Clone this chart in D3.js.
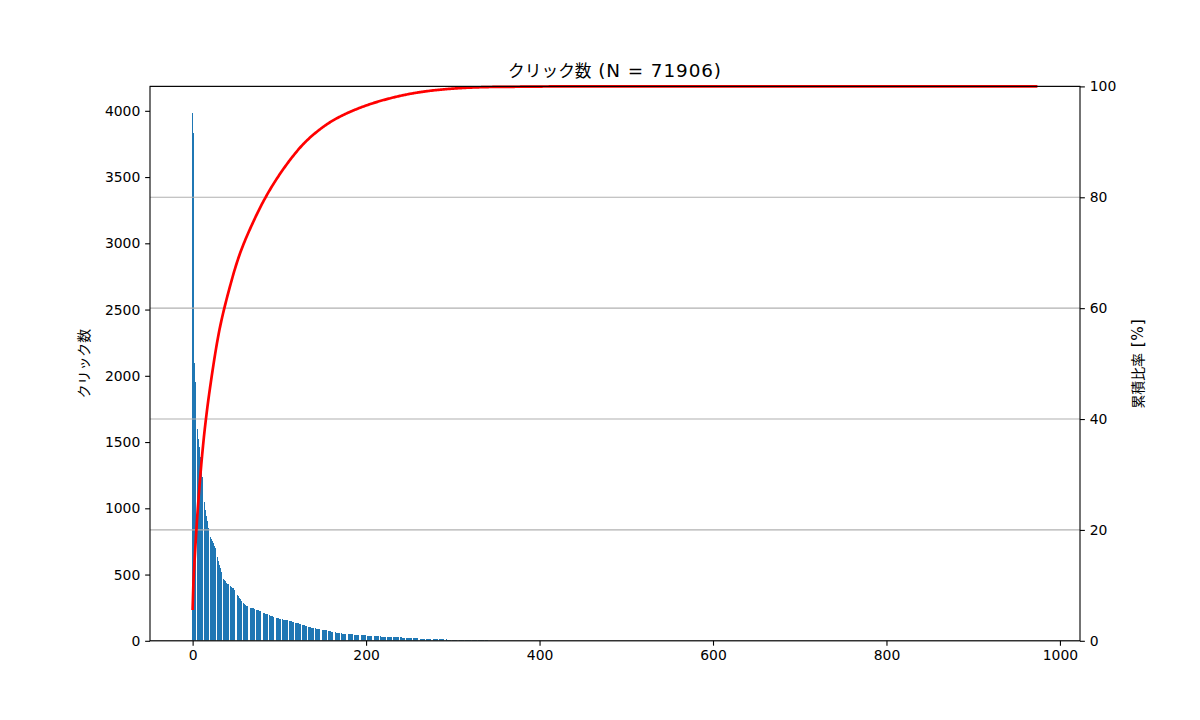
<!DOCTYPE html>
<html>
<head>
<meta charset="utf-8">
<script src="https://cdn.jsdelivr.net/npm/d3@7"></script>
<style>
    body { margin: 0; background: #fff; }
    svg text { font-family: "DejaVu Sans", "Noto Sans CJK JP", sans-serif; fill: #000; }
    .jp { font-family: "Noto Sans CJK JP", sans-serif; }
    .latin { font-family: "DejaVu Sans", sans-serif; font-size: 1.1em; letter-spacing: 0.05em; }
</style>
</head>
<body>
<svg id="chart" width="1200" height="720"></svg>
<script>
// chart texts: [japanese part, latin part]
const titleText = ['クリック数', ' (N = 71906)'];
const leftLabel = ['クリック数', ''];
const rightLabel = ['累積比率', ' [%]'];

const clicks = [
    3985, 3835, 2094, 1953, 1890,
    1830, 1600, 1520, 1460, 1390, 1330, 1240, 1165, 1115, 1045,
    985, 940, 905, 850, 822, 802, 784, 768, 750, 735,
    718, 703, 685, 658, 630, 602, 575, 548, 520, 497,
    482, 470, 462, 451, 440, 431, 426, 421, 417, 414,
    409, 402, 396, 387, 376, 364, 355, 347, 338, 326,
    313, 303, 295, 288, 283, 277, 271, 266, 262, 258,
    255, 252, 250, 248, 246, 244, 242, 240, 237, 234,
    232, 229, 226, 223, 220, 217, 214, 211, 208, 205,
    202, 199, 196, 194, 191, 189, 187, 184, 182, 180,
    178, 176, 174, 172, 170, 168, 166, 165, 163, 161,
    160, 158, 157, 155, 154, 152, 150, 149, 147, 146,
    144, 143, 141, 140, 138, 136, 134, 132, 130, 128,
    126, 123, 121, 118, 116, 113, 111, 108, 106, 104,
    102, 101, 99, 98, 97, 96, 95, 93, 92, 90,
    89, 88, 86, 85, 84, 83, 82, 80, 79,
    78, 76, 75, 74, 72, 71, 70, 68, 67, 66, 64, 63, 62, 61, 60, 59, 58, 57, 56,
    55, 54, 54, 53, 52, 52, 51, 50, 50, 49, 49, 48, 48, 47, 47, 46, 46, 45, 45,
    44, 44, 43, 43, 42, 42, 41, 41, 40, 40, 39, 39, 38, 38, 37, 37, 36, 36, 35,
    35, 34, 34, 34, 33, 33, 33, 32, 32, 32, 31, 31, 31, 30, 30, 30, 29, 29, 29,
    28, 28, 28, 27, 27, 27, 26, 26, 26, 25, 25, 25, 24, 24, 24, 23, 23, 23, 22,
    22, 21, 21, 21, 20, 20, 20, 19, 19, 19, 18, 18, 18, 17, 17, 17, 16, 16, 16, 15,
    15, 15, 14, 14, 14, 14, 13, 13, 13, 13, 12, 12, 12, 12, 12, 11, 11, 11, 11,
    11, 10, 10, 10, 10, 10, 9, 9, 9, 9, 9, 8, 8, 8, 8, 8, 8, 7, 7,
    7, 7, 7, 7, 6, 6, 6, 6, 6, 6, 5, 5, 5, 5, 5, 5, 5, 4, 4,
    4, 4, 4, 4, 4, 4, 3, 3, 3, 3, 3, 3, 3, 3, 3, 2, 2, 2, 2,
    1,1,1,1,1, 1,1,1,1,1, 1,1,1,1,1, 1,1,1,1,1, 1,1,1,1,1,
    1,1,1,1,1, 1,1,1,1,1, 1,1,1,1,1, 1,1,1,1,1, 1,1,1,1,1,
    1,1,1,1,1, 1,1,1,1,1, 1,1,1,1,1, 1,1,1,1,1, 1,1,1,1,1,
    1,
    0,0,0,0,0, 0,0,0,0,0, 0,0,0,0,0, 0,0,0,0,0, 0,0,0,0,0,
    0,0,0,0,0, 0,0,0,0,0, 0,0,0,0,0, 0,0,0,0,0, 0,0,0,0,0,
    0,0,0,0,0, 0,0,0,0,0, 0,0,0,0,0, 0,0,0,0,0, 0,0,0,0,0,
    0,0,0,0,0, 0,0,0,0,0, 0,0,0,0,0, 0,0,0,0,0, 0,0,0,0,0,
    0,0,0,0,0, 0,0,0,0,0, 0,0,0,0,0, 0,0,0,0,0, 0,0,0,0,0,
    0,0,0,0,0, 0,0,0,0,0, 0,0,0,0,0, 0,0,0,0,0, 0,0,0,0,0,
    0,0,0,0,0, 0,0,0,0,0, 0,0,0,0,0, 0,0,0,0,0, 0,0,0,0,0,
    0,0,0,0,0, 0,0,0,0,0, 0,0,0,0,0, 0,0,0,0,0, 0,0,0,0,0,
    0,0,0,0,0, 0,0,0,0,0, 0,0,0,0,0, 0,0,0,0,0, 0,0,0,0,0,
    0,0,0,0,0, 0,0,0,0,0, 0,0,0,0,0, 0,0,0,0,0, 0,0,0,0,0,
    0,0,0,0,0, 0,0,0,0,0, 0,0,0,0,0, 0,0,0,0,0, 0,0,0,0,0,
    0,0,0,0,0, 0,0,0,0,0, 0,0,0,0,0, 0,0,0,0,0, 0,0,0,0,0,
    0,0,0,0,0, 0,0,0,0,0, 0,0,0,0,0, 0,0,0,0,0, 0,0,0,0,0,
    0,0,0,0,0, 0,0,0,0,0, 0,0,0,0,0, 0,0,0,0,0, 0,0,0,0,0,
    0,0,0,0,0, 0,0,0,0,0, 0,0,0,0,0, 0,0,0,0,0, 0,0,0,0,0,
    0,0,0,0,0, 0,0,0,0,0, 0,0,0,0,0, 0,0,0,0,0, 0,0,0,0,0,
    0,0,0,0,0, 0,0,0,0,0, 0,0,0,0,0, 0,0,0,0,0, 0,0,0,0,0,
    0,0,0,0,0, 0,0,0,0,0, 0,0,0,0,0, 0,0,0,0,0, 0,0,0,0,0,
    0,0,0,0,0, 0,0,0,0,0, 0,0,0,0,0, 0,0,0,0,0, 0,0,0,0,0,
    0,0,0,0,0, 0,0,0,0,0, 0,0,0,0,0, 0,0,0,0,0, 0,0,0,0,0,
    0,0,0,0,0, 0,0,0,0,0, 0,0,0,0,0, 0,0,0,0,0, 0,0,0,0,0,
    0,0,0,0,0, 0,0,0,0,0, 0,0,0,0,0, 0,0,0,0,0, 0,0,0,0,0,
    0,0,0,0
];

// tick values
const xTicks = [0, 200, 400, 600, 800, 1000];
const leftTicks = [0, 500, 1000, 1500, 2000, 2500, 3000, 3500, 4000];
const rightTicks = [0, 20, 40, 60, 80, 100];

// figure layout (matplotlib default subplot box)
let plot = {left: 150, right: 1080, top: 86.4, bottom: 640.8};
let tickLen = 4.86, tickPad = 4.86;

let svg = d3.select('#chart');
svg.append('rect').attr('width', 1200).attr('height', 720).attr('fill', '#fff');

// cumulative share
let total = d3.sum(clicks);
let running = 0;
let cumPct = clicks.map(function (v) {
    running += v;
    return running / total * 100;
});

// scales, 5% margins like matplotlib autoscale
let lo = -0.4, hi = clicks.length - 1 + 0.4;
let pad = (hi - lo) * 0.05;
let x = d3.scaleLinear().domain([lo - pad, hi + pad]).range([plot.left, plot.right]);
let yLeft = d3.scaleLinear().domain([0, d3.max(clicks) * 1.05]).range([plot.bottom, plot.top]);
let yRight = d3.scaleLinear().domain([0, 100]).range([plot.bottom, plot.top]);

// bars (crisp so sub-pixel bars stay dark like the png)
svg.append('g').attr('shape-rendering', 'crispEdges').selectAll('rect')
    .data(clicks)
    .enter().append('rect')
    .attr('x', (d, i) => x(i - 0.4))
    .attr('width', (d, i) => x(i + 0.4) - x(i - 0.4))
    .attr('y', d => yLeft(d))
    .attr('height', d => yLeft(0) - yLeft(d))
    .attr('fill', '#1f77b4');

// grid from the right axis
svg.append('g').selectAll('line')
    .data(rightTicks)
    .enter().append('line')
    .attr('x1', plot.left).attr('x2', plot.right)
    .attr('y1', d => yRight(d)).attr('y2', d => yRight(d))
    .attr('stroke', '#b0b0b0')
    .attr('stroke-width', 1.1);

// cumulative line
let line = d3.line()
    .x((d, i) => x(i))
    .y(d => yRight(d));
svg.append('path')
    .datum(cumPct)
    .attr('d', line)
    .attr('fill', 'none')
    .attr('stroke', 'red')
    .attr('stroke-width', 2.7)
    .attr('stroke-linejoin', 'round');

// axes
let fmt = d3.format('d');
let axisBottom = d3.axisBottom(x).tickValues(xTicks).tickFormat(fmt).tickSize(tickLen).tickPadding(tickPad);
let axisLeft = d3.axisLeft(yLeft).tickValues(leftTicks).tickFormat(fmt).tickSize(tickLen).tickPadding(tickPad);
let axisRight = d3.axisRight(yRight).tickValues(rightTicks).tickFormat(fmt).tickSize(tickLen).tickPadding(tickPad);

function styleAxis(g) {
    g.select('.domain').remove();
    g.selectAll('.tick line').attr('stroke', '#000').attr('stroke-width', 1.1);
    g.selectAll('.tick text').attr('font-size', '13.9px').attr('fill', '#000')
        .style('font-family', '"DejaVu Sans", sans-serif');
}

svg.append('g').attr('transform', `translate(0,${plot.bottom})`).call(axisBottom).call(styleAxis);
svg.append('g').attr('transform', `translate(${plot.left},0)`).call(axisLeft).call(styleAxis);
svg.append('g').attr('transform', `translate(${plot.right},0)`).call(axisRight).call(styleAxis);

// spines
svg.append('rect')
    .attr('x', plot.left).attr('y', plot.top)
    .attr('width', plot.right - plot.left).attr('height', plot.bottom - plot.top)
    .attr('fill', 'none').attr('stroke', '#000').attr('stroke-width', 1.1);

// label text with a japanese part and a wider latin part
function addLabel(parts, transform, size) {
    let t = svg.append('text')
        .attr('transform', transform)
        .attr('text-anchor', 'middle')
        .attr('font-size', size);
    t.append('tspan').attr('class', 'jp').text(parts[0]);
    if (parts[1]) {
        t.append('tspan').attr('class', 'latin').text(parts[1]);
    }
    return t;
}

let midY = (plot.top + plot.bottom) / 2;
addLabel(titleText, `translate(${(plot.left + plot.right) / 2},77)`, '16.7px');
addLabel(leftLabel, `translate(89,${midY}) rotate(-90)`, '13.9px');
addLabel(rightLabel, `translate(1143,${midY}) rotate(-90)`, '13.9px');
</script>
</body>
</html>
